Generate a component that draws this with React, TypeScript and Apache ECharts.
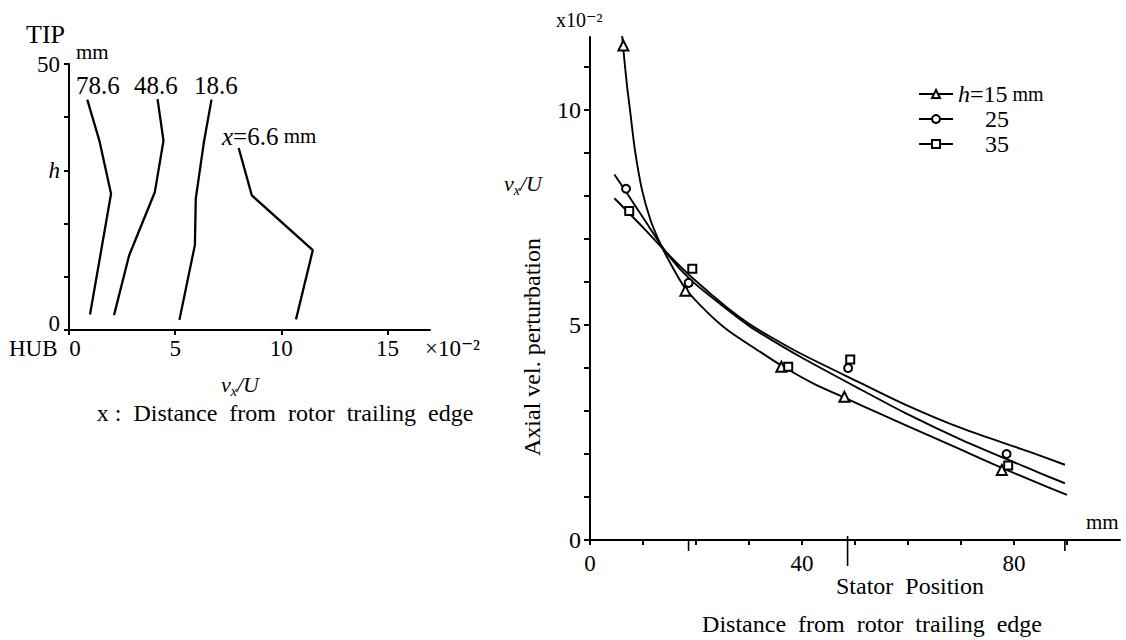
import React, { useEffect, useRef } from "react";
import * as echarts from "echarts";

const SERIF = "Liberation Serif, DejaVu Serif, serif";

// ---------- Left chart: profiles of v_x/U (x 10^-2) versus h (mm) ----------
const profileNames = ["78.6", "48.6", "18.6", "6.6"];
const profile786 = [[0.86, 43.3], [1.43, 35.6], [1.98, 25.6], [0.99, 2.9]];
const profile486 = [[4.17, 43.4], [4.45, 35.6], [4.04, 25.9], [2.83, 14.0], [2.12, 2.8]];
const profile186 = [[6.71, 43.3], [6.34, 35.0], [5.97, 24.7], [5.93, 16.0], [5.2, 1.9]];
const profile66 = [[7.99, 34.2], [8.61, 25.3], [11.48, 15.0], [10.69, 2.0]];
const leftXTicks = [0, 5, 10, 15];
const leftYTicks = [0, 10, 20, 30, 40, 50];
const leftYLabels = [0, 30, 50];

// ---------- Right chart: v_x/U (x 10^-2) versus distance (mm) ----------
const seriesNames = ["15", "25", "35"];
const pointsH15 = [[6.3, 11.5], [18.0, 5.8], [36.1, 4.03], [48.0, 3.33], [77.7, 1.63]];
const pointsH25 = [[6.8, 8.17], [18.6, 5.98], [48.7, 4.0], [78.6, 2.0]];
const pointsH35 = [[7.4, 7.65], [19.3, 6.31], [37.4, 4.03], [49.1, 4.2], [78.9, 1.73]];
const curveH15 = [
  [5.95, 11.9], [6.3, 11.4], [7.0, 10.55], [7.6, 9.95], [8.5, 9.05], [9.8, 8.15],
  [11.4, 7.45], [13.3, 6.88], [14.8, 6.52], [18.0, 5.85], [22.1, 5.3], [26, 4.88],
  [32.2, 4.37], [36.1, 4.06], [42, 3.65], [48, 3.31], [55, 2.92], [63.8, 2.44],
  [70, 2.1], [77.7, 1.68], [84, 1.35], [90, 1.05],
];
const curveH25 = [
  [4.6, 8.5], [6.8, 8.1], [10, 7.5], [14.8, 6.62], [19, 6.05], [25.9, 5.36],
  [30, 4.98], [34.7, 4.62], [40, 4.24], [51.1, 3.5], [60, 2.92], [70.1, 2.33],
  [82.7, 1.67], [89.6, 1.32],
];
const curveH35 = [
  [4.6, 7.95], [7.4, 7.6], [10, 7.27], [14.8, 6.64], [19.3, 6.1], [25.9, 5.4],
  [30, 5.03], [34.7, 4.68], [40, 4.32], [51.1, 3.65], [60, 3.12], [70.1, 2.6],
  [82.7, 2.06], [89.6, 1.75],
];
const rightXTicks = [0, 10, 20, 30, 40, 50, 60, 70, 80, 90];
const rightXLabels = [0, 40, 80];
const rightYTicks = [0, 1, 2, 3, 4, 5, 6, 7, 8, 9, 10, 11];
const rightYLabels = [0, 5, 10];
const statorTicks = [48.6];
const markTicks = [18.6, 89.6];

const black = "#000";

function axisCommon(ticks: number[], labels: number[], fontSize: number, margin: number, tickLen: number) {
  return {
    axisLine: { show: true, onZero: false, lineStyle: { color: black, width: 2 } },
    axisTick: { show: true, customValues: ticks, length: tickLen, lineStyle: { color: black, width: 2 } },
    axisLabel: { customValues: labels, color: black, fontSize, fontFamily: SERIF, margin },
    splitLine: { show: false },
  };
}

function buildOption() {
  const leftLine = (name: string, data: number[][]) => ({
    type: "line",
    name,
    xAxisIndex: 0,
    yAxisIndex: 0,
    data,
    symbol: "none",
    silent: true,
    lineStyle: { color: black, width: 2.3 },
  });
  const curve = (data: number[][]) => ({
    type: "line",
    xAxisIndex: 1,
    yAxisIndex: 1,
    data,
    symbol: "none",
    smooth: 0.3,
    silent: true,
    lineStyle: { color: black, width: 1.9 },
  });
  const points = (name: string, data: number[][], symbol: string, size: number) => ({
    type: "line",
    name,
    xAxisIndex: 1,
    yAxisIndex: 1,
    data,
    symbol,
    symbolSize: size,
    showSymbol: true,
    silent: true,
    lineStyle: { opacity: 0 },
    itemStyle: { color: black, borderColor: black, borderWidth: 1.6 },
  });
  const tickSeries = (vals: number[], up: number, down: number) => ({
    type: "custom",
    xAxisIndex: 1,
    yAxisIndex: 1,
    data: vals.map((v) => [v, 0]),
    clip: false,
    silent: true,
    renderItem: (_p: any, api: any) => {
      const c = api.coord([api.value(0), api.value(1)]);
      return {
        type: "line",
        shape: { x1: c[0], y1: c[1] - up, x2: c[0], y2: c[1] + down },
        style: { stroke: black, lineWidth: 1.6 },
      };
    },
  });

  const txt = (text: string, x: number, y: number, fontSize: number, align = "left", extra: any = {}) => ({
    type: "text",
    x,
    y,
    silent: true,
    style: {
      text,
      fill: black,
      fontSize,
      fontFamily: SERIF,
      align,
      verticalAlign: "middle",
      ...extra,
    },
  });

  const vxuRich = {
    i: { fontStyle: "italic", fontSize: 22, fontFamily: SERIF, color: black, lineHeight: 28, verticalAlign: "middle" },
    s: { fontStyle: "italic", fontSize: 14, fontFamily: SERIF, color: black, lineHeight: 14, verticalAlign: "bottom" },
  };

  const legendRich = {
    i: { fontStyle: "italic", fontSize: 24, fontFamily: SERIF, color: black, lineHeight: 21 },
    n: { fontSize: 24, fontFamily: SERIF, color: black, lineHeight: 21 },
    m: { fontSize: 20, fontFamily: SERIF, color: black, lineHeight: 21 },
    p: { width: 27, fontSize: 24, lineHeight: 21 },
  };

  return {
    animation: false,
    backgroundColor: "#fff",
    grid: [
      { left: 69, top: 64, width: 361, height: 266 },
      { left: 590, top: 37, width: 530, height: 503 },
    ],
    xAxis: [
      {
        gridIndex: 0, type: "value", min: 0, max: 17,
        ...axisCommon(leftXTicks, leftXTicks, 23, 7, 5),
        axisLabel: {
          customValues: leftXTicks, color: black, fontSize: 23, fontFamily: SERIF, margin: 7,
          formatter: (v: number) => (v === 0 ? "{z|0}" : String(v)),
          rich: { z: { fontSize: 23, fontFamily: SERIF, color: black, padding: [0, 0, 0, 12] } },
        },
      },
      {
        gridIndex: 1, type: "value", min: 0, max: 100,
        ...axisCommon(rightXTicks, rightXLabels, 23, 12, 5),
      },
    ],
    yAxis: [
      {
        gridIndex: 0, type: "value", min: 0, max: 50,
        ...axisCommon(leftYTicks, leftYLabels, 23, 9, 5),
        axisLabel: {
          customValues: leftYLabels, color: black, fontSize: 23, fontFamily: SERIF, margin: 9,
          formatter: (v: number) => (v === 30 ? "{i|h}" : v === 0 ? "{z|0}" : String(v)),
          rich: {
            i: { fontStyle: "italic", fontSize: 23, fontFamily: SERIF, color: black },
            z: { fontSize: 23, fontFamily: SERIF, color: black, padding: [0, 0, 14, 0] },
          },
        },
      },
      {
        gridIndex: 1, type: "value", min: 0, max: 11.7,
        ...axisCommon(rightYTicks, rightYLabels, 24, 9, 6),
      },
    ],
    legend: {
      orient: "vertical",
      left: 913,
      top: 77,
      itemWidth: 34,
      itemHeight: 10,
      itemGap: 1,
      data: seriesNames,
      lineStyle: { color: black, width: 2, opacity: 1 },
      textStyle: { color: black, fontFamily: SERIF, fontSize: 24, lineHeight: 21, rich: legendRich },
      formatter: (name: string) =>
        name === seriesNames[0] ? "{i|h}{n|=" + name + "}{m| mm}" : "{p| }{n|" + name + "}",
    },
    series: [
      leftLine(profileNames[0], profile786),
      leftLine(profileNames[1], profile486),
      leftLine(profileNames[2], profile186),
      leftLine(profileNames[3], profile66),
      curve(curveH15),
      curve(curveH25),
      curve(curveH35),
      points(seriesNames[0], pointsH15, "emptyTriangle", 10),
      points(seriesNames[1], pointsH25, "emptyCircle", 8),
      points(seriesNames[2], pointsH35, "emptyRect", 8),
      tickSeries(statorTicks, 4, 26),
      tickSeries(markTicks, 0, 11),
    ],
    graphic: [
      // left chart annotations
      txt("TIP", 26, 34, 26),
      txt("mm", 76, 52, 21),
      txt(profileNames[0], 76, 85, 25),
      txt(profileNames[1], 134, 85, 25),
      txt(profileNames[2], 194, 85, 25),
      {
        type: "text", x: 222, y: 136, silent: true,
        style: {
          text: "{i|x}{n|=" + profileNames[3] + "}{m| mm}",
          verticalAlign: "middle",
          rich: {
            i: { fontStyle: "italic", fontSize: 25, fontFamily: SERIF, fill: black },
            n: { fontSize: 25, fontFamily: SERIF, fill: black },
            m: { fontSize: 21, fontFamily: SERIF, fill: black },
          },
        },
      },
      txt("HUB", 9, 348, 23),
      txt("\u00d710\u207b\u00b2", 425, 348, 23),
      {
        type: "text", x: 240, y: 384, silent: true,
        style: { text: "{i|v}{s|x}{i|/U}", align: "center", verticalAlign: "middle", rich: vxuRich },
      },
      txt("x :  Distance  from  rotor  trailing  edge", 285, 413, 24, "center"),
      // right chart annotations
      txt("x10\u207b\u00b2", 556, 20, 20),
      {
        type: "text", x: 523, y: 183, silent: true,
        style: { text: "{i|v}{s|x}{i|/U}", align: "center", verticalAlign: "middle", rich: vxuRich },
      },
      {
        type: "text", x: 532, y: 347, rotation: Math.PI / 2, silent: true,
        style: {
          text: "Axial vel. perturbation", fill: black, fontSize: 24, fontFamily: SERIF,
          align: "center", verticalAlign: "middle",
        },
      },
      txt("mm", 1086, 522, 21),
      txt("Stator  Position", 910, 586, 24, "center"),
      txt("Distance  from  rotor  trailing  edge", 872, 624, 24, "center"),
    ],
  };
}

export default function App() {
  const ref = useRef<HTMLDivElement>(null);
  useEffect(() => {
    if (!ref.current) return;
    const chart = echarts.init(ref.current, undefined, { renderer: "svg" });
    chart.setOption(buildOption() as any);
    return () => chart.dispose();
  }, []);
  return (
    <div
      ref={ref}
      style={{ position: "absolute", left: 0, top: 0, width: 1126, height: 640, background: "#fff" }}
    />
  );
}
